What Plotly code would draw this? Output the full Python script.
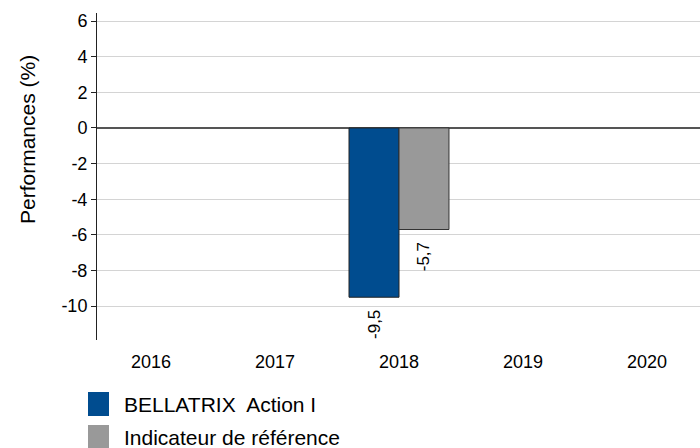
import plotly.graph_objects as go

years = ["2016", "2017", "2018", "2019", "2020"]
fund_name = "BELLATRIX  Action I"
bench_name = "Indicateur de référence"
fund_values = [None, None, -9.5, None, None]
bench_values = [None, None, -5.7, None, None]
y_ticks = [6, 4, 2, 0, -2, -4, -6, -8, -10]

BLUE = "#004C8F"
GRAY = "#999999"
FONT = "Arial, Liberation Sans, sans-serif"

def labels(vals):
    return [("" if v is None else f"{v:.1f}".replace(".", ",") + "\u00a0\u00a0") for v in vals]

fig = go.Figure()
fig.add_trace(go.Bar(x=years, y=fund_values, name=fund_name, marker=dict(color=BLUE, line=dict(color="#222222", width=1)),
                     text=labels(fund_values), textposition="outside", textangle=-90,
                     textfont=dict(size=17, color="#000000", family=FONT), cliponaxis=False, showlegend=False))
fig.add_trace(go.Bar(x=years, y=bench_values, name=bench_name, marker=dict(color=GRAY, line=dict(color="#333333", width=1)),
                     text=labels(bench_values), textposition="outside", textangle=-90,
                     textfont=dict(size=17, color="#000000", family=FONT), cliponaxis=False, showlegend=False))

fig.update_layout(
    width=700, height=448,
    margin=dict(l=97, r=0, t=13, b=108),
    paper_bgcolor="white", plot_bgcolor="white",
    barmode="group", bargap=0.194, bargroupgap=0,
    font=dict(family=FONT, color="#000000"),
    showlegend=False,
)
fig.update_xaxes(range=[-0.435, 4.427], showgrid=False, showline=False, ticks="", tickfont=dict(size=18),
                 zeroline=False, ticklabelstandoff=9)
fig.update_yaxes(range=[-11.9, 6.45], tickvals=y_ticks, ticktext=[str(t) for t in y_ticks],
                 showgrid=True, gridcolor="#D4D4D4", gridwidth=1,
                 zeroline=True, zerolinecolor="#555555", zerolinewidth=1.5,
                 showline=True, linecolor="#222222", linewidth=1,
                 ticks="outside", ticklen=5, tickcolor="#222222",
                 tickfont=dict(size=18))

# y-axis title
fig.add_annotation(xref="paper", yref="paper", x=(27 - 97) / 603, y=(340 - 140) / 327,
                   text="Performances (%)", textangle=-90, showarrow=False,
                   xanchor="center", yanchor="middle", font=dict(size=21, family=FONT, color="#000000"))

# manual legend
for i, (name, col) in enumerate([(fund_name, BLUE), (bench_name, GRAY)]):
    yc = 404 + i * 33
    fig.add_shape(type="rect", xref="paper", yref="paper",
                  x0=(88 - 97) / 603, x1=(109 - 97) / 603,
                  y0=(448 - 108 - (yc + 12)) / 327, y1=(448 - 108 - (yc - 12)) / 327,
                  fillcolor=col, line=dict(width=0))
    fig.add_annotation(xref="paper", yref="paper", x=(122 - 97) / 603, y=(448 - 108 - yc) / 327,
                       text=name, showarrow=False, xanchor="left", yanchor="middle",
                       font=dict(size=21, family=FONT, color="#000000"))

fig.write_html("out.html", config={"displayModeBar": False},
               post_script="document.body.style.margin='0';document.body.style.overflow='hidden';")
